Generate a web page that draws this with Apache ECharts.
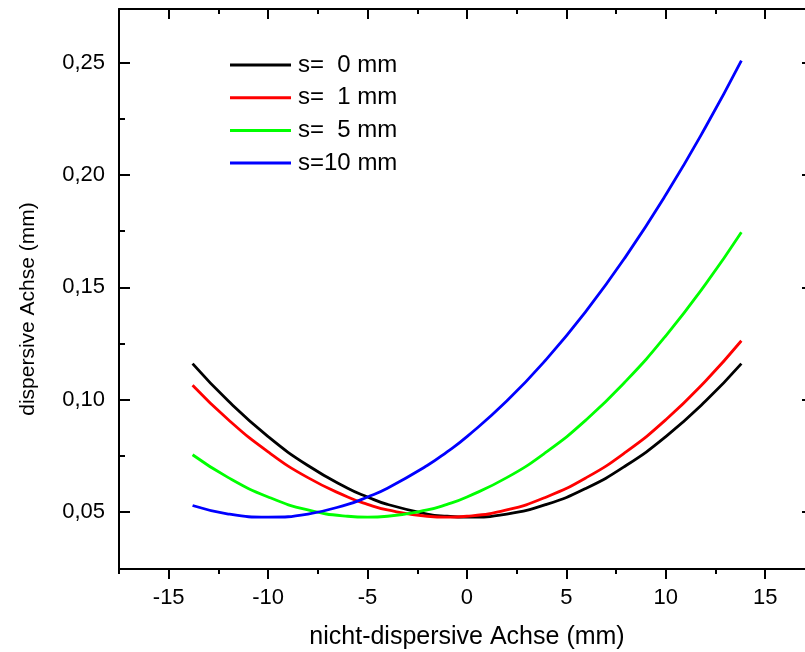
<!DOCTYPE html>
<html>
<head>
<meta charset="utf-8">
<script src="https://cdn.jsdelivr.net/npm/echarts@6/dist/echarts.min.js"></script>
<style>
  html, body { margin: 0; padding: 0; background: #ffffff; }
  #chart { width: 805px; height: 652px; }
</style>
</head>
<body>
<div id="chart"></div>
<script>
// Position along the non-dispersive axis (mm)
const xValues = [-13.8, -12, -10, -8, -6, -5, -4, -2, -1, 0, 2, 4, 6, 8, 10, 12, 13.8];

// Width along the dispersive axis (mm) for each source offset s
const s0mm  = [0.1160, 0.0993, 0.0835, 0.0706, 0.0605, 0.0566, 0.0533, 0.0490, 0.0480, 0.0476, 0.0490, 0.0533, 0.0605, 0.0706, 0.0835, 0.0993, 0.1160];
const s1mm  = [0.1064, 0.0910, 0.0767, 0.0652, 0.0566, 0.0533, 0.0508, 0.0480, 0.0476, 0.0480, 0.0508, 0.0566, 0.0652, 0.0767, 0.0910, 0.1083, 0.1262];
const s5mm  = [0.0754, 0.0652, 0.0566, 0.0508, 0.0480, 0.0476, 0.0480, 0.0508, 0.0533, 0.0566, 0.0652, 0.0767, 0.0910, 0.1083, 0.1284, 0.1514, 0.1745];
const s10mm = [0.0528, 0.0490, 0.0476, 0.0490, 0.0533, 0.0566, 0.0605, 0.0706, 0.0767, 0.0835, 0.0993, 0.1180, 0.1395, 0.1639, 0.1912, 0.2214, 0.2510];

const seriesNames  = ['s=  0 mm', 's=  1 mm', 's=  5 mm', 's=10 mm'];
const seriesColors = ['#000000', '#ff0000', '#00ff00', '#0000ff'];

// Tick positions
const xTicks      = [-15, -10, -5, 0, 5, 10, 15];
const xMinorTicks = [-17.5, -12.5, -7.5, -2.5, 2.5, 7.5, 12.5];
const yTicks      = [0.05, 0.10, 0.15, 0.20, 0.25];
const yMinorTicks = [0.075, 0.125, 0.175, 0.225];

const FONT = '"Liberation Sans", Arial, Helvetica, sans-serif';
// The frame runs a little past the right edge of the page, so the
// visible x range stops at 17.0.
const X_MIN = -17.5, X_MAX = 17.0;
const Y_MIN = 0.0245, Y_MAX = 0.274;

function lineDef(showLine) {
  return showLine
    ? { show: true, onZero: false, lineStyle: { color: '#000', width: 2 } }
    : { show: false, onZero: false };
}

function xAxisDef(position, ticks, len, inside, withLabels, showLine) {
  return {
    type: 'value', position: position, min: X_MIN, max: X_MAX,
    axisLine: lineDef(showLine),
    axisTick: { show: true, customValues: ticks, length: len, inside: inside,
                lineStyle: { color: '#000', width: 2 } },
    axisLabel: withLabels ? {
      show: true, customValues: ticks, margin: 18, color: '#000',
      fontFamily: FONT, fontSize: 22,
      formatter: v => String(v)
    } : { show: false },
    splitLine: { show: false }
  };
}

function yAxisDef(position, ticks, len, inside, withLabels, showLine) {
  return {
    type: 'value', position: position, min: Y_MIN, max: Y_MAX,
    axisLine: lineDef(showLine),
    axisTick: { show: true, customValues: ticks, length: len, inside: inside,
                lineStyle: { color: '#000', width: 2 } },
    axisLabel: withLabels ? {
      show: true, customValues: ticks, margin: 14, color: '#000',
      fontFamily: FONT, fontSize: 22,
      formatter: v => v.toFixed(2).replace('.', ',')
    } : { show: false },
    splitLine: { show: false }
  };
}

const xAxes = [
  xAxisDef('bottom', xTicks, 10, false, true, true),
  xAxisDef('bottom', xMinorTicks, 5, false, false, false),
  xAxisDef('top', xTicks, 10, true, false, true),
  xAxisDef('top', xMinorTicks, 5, true, false, false)
];
Object.assign(xAxes[0], {
  name: 'nicht-dispersive Achse (mm)', nameLocation: 'middle', nameGap: 56,
  nameTextStyle: { color: '#000', fontFamily: FONT, fontSize: 25, padding: [0, 0, 0, 10] }
});

const yAxes = [
  yAxisDef('left', yTicks, 11, true, true, true),
  yAxisDef('left', yMinorTicks, 6, true, false, false),
  // right-hand frame: only the tips of its inward ticks reach the page
  yAxisDef('right', yTicks, 3, true, false, false)
];
Object.assign(yAxes[0], {
  name: 'dispersive Achse (mm)', nameLocation: 'middle', nameGap: 80, nameRotate: 90,
  nameTextStyle: { color: '#000', fontFamily: FONT, fontSize: 21, padding: [0, 40, 0, 0] }
});

const dataSets = [s0mm, s1mm, s5mm, s10mm];
const series = dataSets.map((vals, i) => ({
  name: seriesNames[i],
  type: 'line',
  xAxisIndex: 0, yAxisIndex: 0,
  smooth: true,
  symbol: 'none',
  lineStyle: { color: seriesColors[i], width: 2.8 },
  itemStyle: { color: seriesColors[i] },
  data: xValues.map((x, k) => [x, vals[k]])
}));

const chart = echarts.init(document.getElementById('chart'), null, { renderer: 'canvas' });
chart.setOption({
  animation: false,
  backgroundColor: '#ffffff',
  grid: { left: 119, right: 0, top: 9, bottom: 83, containLabel: false, outerBoundsMode: 'none' },
  legend: {
    show: true, orient: 'vertical', left: 230, top: 53, padding: 0,
    itemWidth: 61, itemHeight: 3, itemGap: 8.7,
    icon: 'rect',
    textStyle: { color: '#000', fontFamily: FONT, fontSize: 24, padding: [0, 0, 0, 2] },
    data: seriesNames
  },
  xAxis: xAxes,
  yAxis: yAxes,
  series: series
});
</script>
</body>
</html>
